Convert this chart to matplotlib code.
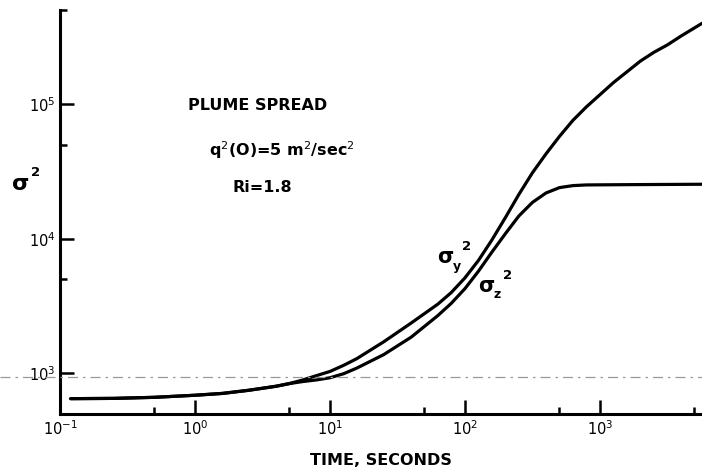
import matplotlib
matplotlib.use("Agg")
import matplotlib.pyplot as plt
from matplotlib.ticker import LogLocator, NullFormatter
from matplotlib.lines import Line2D

plt.rcParams['font.family'] = ['DejaVu Sans']
plt.rcParams['mathtext.fontset'] = 'dejavusans'

# time (s) and plume variances (m^2)
time_y = [0.12, 0.25, 0.5, 1, 1.6, 2.5, 4, 5, 6.3, 7.9, 10, 12.6, 15.8, 25, 40,
          63, 79, 100, 126, 158, 200, 251, 316, 398, 501, 631, 794, 1000, 1259,
          1585, 1995, 2512, 3162, 3981, 5700]
sigma_y2 = [650, 653, 665, 689, 711, 750, 804, 841, 895, 962, 1035, 1148, 1288,
            1718, 2371, 3273, 3981, 5129, 6918, 9772, 14454, 21380, 30903, 42658,
            57544, 75858, 95499, 117490, 144544, 173780, 208930, 242661, 275423,
            319890, 398107]

time_z = [0.12, 0.25, 0.5, 1, 1.6, 2.5, 4, 5, 6.3, 7.9, 10, 12.6, 15.8, 25, 40,
          63, 79, 100, 126, 158, 200, 251, 316, 398, 501, 631, 794, 1585, 5700]
sigma_z2 = [650, 653, 665, 689, 711, 750, 804, 841, 871, 895, 929, 995, 1096,
            1380, 1862, 2692, 3311, 4266, 5754, 7943, 10965, 14791, 18621, 21878,
            23988, 24831, 25119, 25235, 25410]

W, H = 702, 473
fig = plt.figure(figsize=(W / 100, H / 100), dpi=100)
ax = fig.add_axes([60 / W, 59 / H, 642 / W, 404 / H])
ax.set_xscale('log')
ax.set_yscale('log')

for t, s in ((time_y, sigma_y2), (time_z, sigma_z2)):
    ax.plot(t, s, color='black', lw=2.3, solid_capstyle='round', solid_joinstyle='round')

ax.set_xlim(0.1, 10 ** 3.756)
ax.set_ylim(500, 5e5)

for side in ('top', 'right'):
    ax.spines[side].set_visible(False)
for side in ('left', 'bottom'):
    ax.spines[side].set_linewidth(2.2)

ax.xaxis.set_major_locator(LogLocator(base=10, numticks=20))
ax.yaxis.set_major_locator(LogLocator(base=10, numticks=20))
ax.xaxis.set_minor_locator(LogLocator(base=10, subs=[5], numticks=20))
ax.yaxis.set_minor_locator(LogLocator(base=10, subs=[5], numticks=20))
ax.xaxis.set_minor_formatter(NullFormatter())
ax.yaxis.set_minor_formatter(NullFormatter())
ax.tick_params(which='major', direction='in', length=10, width=1.8, labelsize=10.5, pad=4)
ax.tick_params(which='minor', direction='in', length=5, width=1.8)
ax.tick_params(axis='y', which='major', pad=3)

ax.set_xlabel('TIME, SECONDS', fontsize=11.5, fontweight='bold')
ax.xaxis.set_label_coords(0.5, -0.097)


def sigma_label(x, y, sub=None, size=15):
    # bold sigma with an optional subscript and a raised 2, placed in pixels
    fig.text(x / W, 1 - y / H, 'σ', fontsize=size, fontweight='bold', ha='left', va='center')
    sup_x = x + 19
    if sub:
        fig.text((x + 16) / W, 1 - (y + 9) / H, sub, fontsize=9, fontweight='bold',
                 ha='left', va='center')
        sup_x = x + 25
    fig.text(sup_x / W, 1 - (y - 11) / H, '2', fontsize=9.5, fontweight='bold',
             ha='left', va='center')


sigma_label(12, 184, size=16)
sigma_label(437, 257, 'y', size=15)
sigma_label(478, 286, 'z', size=15)

fig.text(258 / W, 1 - 106 / H, 'PLUME SPREAD', fontsize=11.5, fontweight='bold',
         ha='center', va='center')
fig.text(282 / W, 1 - 150 / H, r'q$^2$(O)=5 m$^2$/sec$^2$', fontsize=11.5,
         fontweight='bold', ha='center', va='center')
fig.text(262 / W, 1 - 187 / H, 'Ri=1.8', fontsize=11.5, fontweight='bold',
         ha='center', va='center')

# faint dashed rule running across the sheet
fig.add_artist(Line2D([0.0, 1.0], [1 - 377 / H, 1 - 377 / H], transform=fig.transFigure,
                      color='0.6', lw=0.9, ls=(0, (8, 4, 2, 4))))

fig.savefig('out.png', dpi=100)
